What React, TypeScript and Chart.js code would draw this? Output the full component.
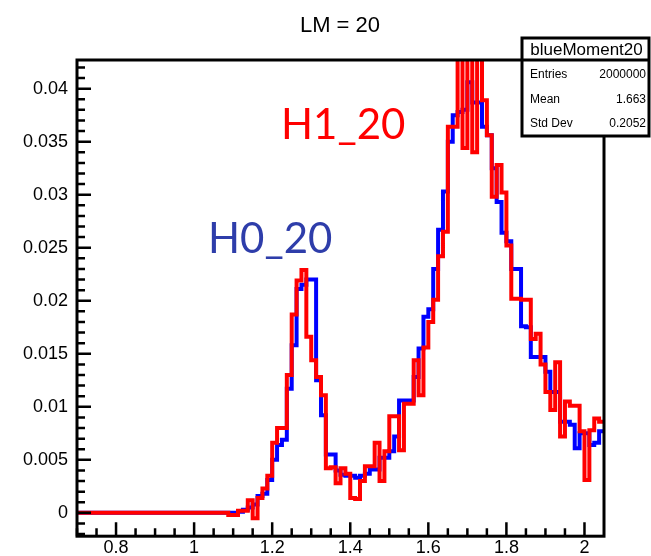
import React, { useEffect, useRef } from "react";
import { Chart, registerables } from "chart.js";

Chart.register(...registerables);

// ---- data -------------------------------------------------------------
const X_MIN = 0.7;
const X_MAX = 2.05;
const BIN_WIDTH = 0.0125;
const Y_MIN = -0.0022;
const Y_MAX = 0.0427;

const xTickValues = [0.8, 1.0, 1.2, 1.4, 1.6, 1.8, 2.0];
const yTickValues = [0, 0.005, 0.01, 0.015, 0.02, 0.025, 0.03, 0.035, 0.04];

const titleText = "LM = 20";
const statsTitle = "blueMoment20";
const statsLabels = ["Entries", "Mean", "Std Dev"];
const statsValues = ["2000000", "1.663", "0.2052"];
const labelH0 = "H0_20";
const labelH1 = "H1_20";

// H0 (blue) histogram, bins of BIN_WIDTH starting at X_MIN
const blueValues = [
  0, 0, 0, 0, 0, 0, 0, 0, 0, 0,
  0, 0, 0, 0, 0, 0, 0, 0, 0, 0,
  0, 0, 0, 0, 0, 0, 0, 0, 0, 0,
  0, 0, 0, 0.0001, 0.0003, 0.0005, 0.0008, 0.0016, 0.0018, 0.0031,
  0.005, 0.0064, 0.0069, 0.0117, 0.0158, 0.0211, 0.0215, 0.022, 0.022, 0.0125,
  0.0092, 0.0055, 0.0055, 0.004, 0.0036, 0.0035, 0.0035, 0.0033, 0.0035, 0.0037,
  0.0041, 0.0041, 0.0052, 0.0052, 0.0058, 0.0072, 0.0106, 0.0106, 0.0106, 0.0128,
  0.0155, 0.0185, 0.0192, 0.023, 0.0267, 0.0303, 0.035, 0.0375, 0.0378, 0.038,
  0.0406, 0.0387, 0.0387, 0.0364, 0.0356, 0.0325, 0.0293, 0.0264, 0.0256, 0.023,
  0.023, 0.0176, 0.0175, 0.0147, 0.0147, 0.0147, 0.0133, 0.0114, 0.0114, 0.0086,
  0.0086, 0.0083, 0.0061, 0.0075, 0.0075, 0.0064, 0.0066, 0.0077,
];

// H1 (red) histogram
const redValues = [
  0, 0, 0, 0, 0, 0, 0, 0, 0, 0,
  0, 0, 0, 0, 0, 0, 0, 0, 0, 0,
  0, 0, 0, 0, 0, 0, 0, 0, 0, 0,
  0, -0.0002, -0.0002, 0.0002, 0.0002, 0.0012, -0.0005, 0.0014, 0.0023, 0.0035,
  0.0066, 0.008, 0.008, 0.013, 0.0187, 0.0219, 0.0229, 0.0166, 0.0144, 0.0128,
  0.0111, 0.0042, 0.0043, 0.0028, 0.0042, 0.0037, 0.0014, 0.0013, 0.003, 0.0044,
  0.0044, 0.0066, 0.003, 0.0058, 0.0091, 0.0091, 0.0059, 0.0103, 0.0103, 0.0144,
  0.0111, 0.0156, 0.018, 0.0201, 0.0242, 0.0265, 0.0364, 0.0364, 0.0445, 0.0344,
  0.0445, 0.034, 0.0445, 0.0389, 0.0356, 0.0298, 0.0328, 0.0302, 0.0252, 0.0202,
  0.0202, 0.0201, 0.0201, 0.0164, 0.0169, 0.014, 0.0114, 0.0097, 0.0142, 0.0072,
  0.0105, 0.0101, 0.0101, 0.0077, 0.0031, 0.0078, 0.0089, 0.0086,
];

// ---- helpers ----------------------------------------------------------
function histPoints(values: number[]) {
  const pts = values.map((v, i) => ({ x: X_MIN + i * BIN_WIDTH, y: v }));
  pts.push({ x: X_MIN + values.length * BIN_WIDTH, y: values[values.length - 1] });
  return pts;
}

function fmt(v: number) {
  return String(Number(v.toFixed(4)));
}

const SANS = "'Liberation Sans', Arial, Helvetica, sans-serif";

const decorPlugin = {
  id: "rootDecor",
  afterDatasetsDraw(chart: any) {
    const ctx = chart.ctx as CanvasRenderingContext2D;
    const area = chart.chartArea;
    const xs = chart.scales.x;
    const ys = chart.scales.y;
    ctx.save();

    // annotation labels
    ctx.font = "42px Lato, 'Open Sans', sans-serif";
    ctx.textAlign = "left";
    ctx.textBaseline = "alphabetic";
    ctx.fillStyle = "#2E3DAA";
    ctx.fillText(labelH0, 208, 253);
    ctx.fillStyle = "#FF0000";
    ctx.fillText(labelH1, 281, 139);

    // ticks (inward, ROOT style)
    ctx.strokeStyle = "#000";
    ctx.lineWidth = 2.5;
    ctx.beginPath();
    for (let i = -2; i <= 42; i++) {
      const v = i / 1000;
      const py = ys.getPixelForValue(v);
      if (py < area.top || py > area.bottom) continue;
      const len = i % 5 === 0 ? 14 : 8;
      ctx.moveTo(area.left, py);
      ctx.lineTo(area.left + len, py);
    }
    for (let i = 14; i <= 41; i++) {
      const v = i * 0.05;
      const px = xs.getPixelForValue(v);
      if (px < area.left || px > area.right) continue;
      const major = xTickValues.some((t) => Math.abs(t - v) < 1e-6);
      const len = major ? 14 : 8;
      ctx.moveTo(px, area.bottom);
      ctx.lineTo(px, area.bottom - len);
    }
    ctx.stroke();

    // frame
    ctx.lineWidth = 3;
    ctx.strokeRect(area.left, area.top, area.right - area.left, area.bottom - area.top);

    // title
    ctx.fillStyle = "#000";
    ctx.font = "22px " + SANS;
    ctx.textAlign = "center";
    ctx.fillText(titleText, 340, 32);

    // stats box
    const bx = 522, by = 38, bw = 127, bh = 98;
    ctx.fillStyle = "#fff";
    ctx.fillRect(bx, by, bw, bh);
    ctx.strokeStyle = "#000";
    ctx.lineWidth = 3;
    ctx.strokeRect(bx, by, bw, bh);
    ctx.beginPath();
    ctx.moveTo(bx, 60);
    ctx.lineTo(bx + bw, 60);
    ctx.stroke();
    ctx.fillStyle = "#000";
    ctx.font = "17px " + SANS;
    ctx.textAlign = "center";
    ctx.fillText(statsTitle, bx + bw / 2 + 1, 55);
    ctx.font = "12px " + SANS;
    const rowY = [78, 103, 127];
    statsLabels.forEach((lab, i) => {
      ctx.textAlign = "left";
      ctx.fillText(lab, 530, rowY[i]);
      ctx.textAlign = "right";
      ctx.fillText(statsValues[i], 646, rowY[i]);
    });

    ctx.restore();
  },
};

export default function App() {
  const canvasRef = useRef<HTMLCanvasElement | null>(null);

  useEffect(() => {
    const canvas = canvasRef.current;
    if (!canvas) return;
    const chart = new Chart(canvas, {
      type: "line",
      data: {
        datasets: [
          {
            label: "H1_20",
            data: histPoints(redValues),
            borderColor: "#FF0000",
            borderWidth: 4,
            pointRadius: 0,
            stepped: true,
            fill: false,
            clip: 0,
            order: 0,
          } as any,
          {
            label: "H0_20",
            data: histPoints(blueValues),
            borderColor: "#0000FF",
            borderWidth: 4,
            pointRadius: 0,
            stepped: true,
            fill: false,
            clip: 0,
            order: 1,
          } as any,
        ],
      },
      options: {
        animation: false,
        responsive: false,
        devicePixelRatio: 1,
        parsing: true,
        layout: { padding: { top: 60, right: 47, left: 0, bottom: 0 } },
        plugins: {
          legend: { display: false },
          tooltip: { enabled: false },
          title: { display: false },
        },
        scales: {
          x: {
            type: "linear",
            min: X_MIN,
            max: X_MAX,
            grid: { display: false, drawTicks: false },
            border: { display: false },
            afterBuildTicks: (axis: any) => {
              axis.ticks = xTickValues.map((v) => ({ value: v }));
            },
            afterFit: (axis: any) => {
              axis.height = 19;
            },
            ticks: {
              autoSkip: false,
              maxRotation: 0,
              minRotation: 0,
              padding: 1,
              color: "#000",
              font: { family: SANS, size: 18 },
              callback: (v: any) => fmt(Number(v)),
            },
          },
          y: {
            type: "linear",
            min: Y_MIN,
            max: Y_MAX,
            grid: { display: false, drawTicks: false },
            border: { display: false },
            afterBuildTicks: (axis: any) => {
              axis.ticks = yTickValues.map((v) => ({ value: v }));
            },
            afterFit: (axis: any) => {
              axis.width = 77;
            },
            ticks: {
              autoSkip: false,
              padding: 9,
              color: "#000",
              font: { family: SANS, size: 18 },
              callback: (v: any) => fmt(Number(v)),
            },
          },
        },
      } as any,
      plugins: [decorPlugin],
    });
    return () => chart.destroy();
  }, []);

  return (
    <div style={{ position: "absolute", left: 0, top: 0, width: 651, height: 556, background: "#fff" }}>
      <canvas ref={canvasRef} width={651} height={556} style={{ display: "block" }} />
    </div>
  );
}
